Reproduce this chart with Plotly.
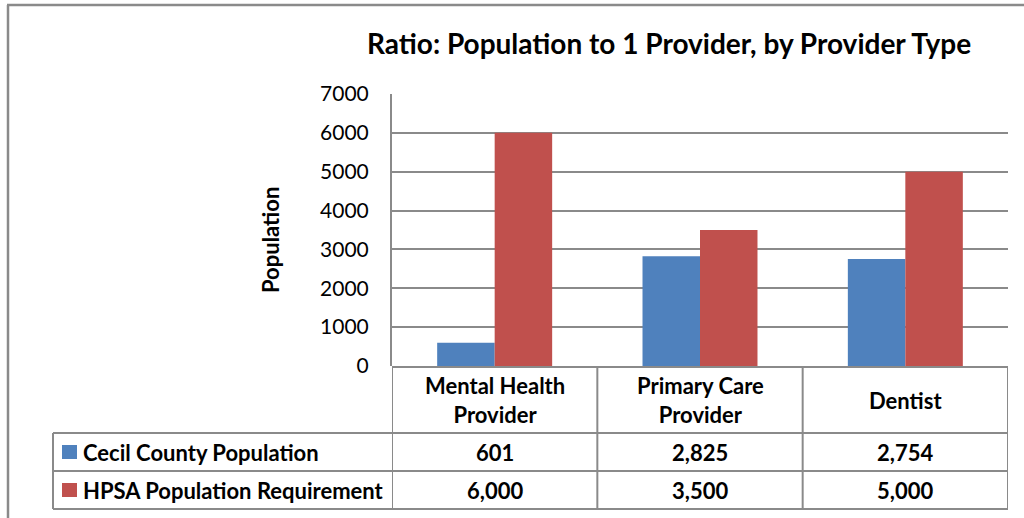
import plotly.graph_objects as go

categories = ["Mental Health Provider", "Primary Care Provider", "Dentist"]
header_labels = ["Mental Health<br>Provider", "Primary Care<br>Provider", "Dentist"]
series_names = ["Cecil County Population", "HPSA Population Requirement"]
cecil_values = [601, 2825, 2754]
hpsa_values = [6000, 3500, 5000]
series_values = [cecil_values, hpsa_values]
series_colors = ["#4F81BD", "#C0504D"]
title_text = "Ratio: Population to 1 Provider, by Provider Type"
y_title = "Population"
y_ticks = [0, 1000, 2000, 3000, 4000, 5000, 6000, 7000]

W, H = 1024, 518
L, R, T, B = 392, 16, 94, 152
PW, PH = W - L - R, H - T - B
FONT = "Lato"
LINE = "#8a8a8a"


def xp(px):
    return (px - L) / PW


def yp(py):
    return (H - B - py) / PH


fig = go.Figure()
for name, vals, col in zip(series_names, series_values, series_colors):
    fig.add_trace(go.Bar(x=categories, y=vals, name=name, marker_color=col,
                         marker_line_width=0, showlegend=False))

shapes = []
annotations = []

# outer chart border (top and left)
shapes.append(dict(type="line", xref="paper", yref="paper", x0=xp(7), x1=xp(1024),
                   y0=yp(5), y1=yp(5), line=dict(color=LINE, width=2.5)))
shapes.append(dict(type="line", xref="paper", yref="paper", x0=xp(8), x1=xp(8),
                   y0=yp(5), y1=yp(518), line=dict(color=LINE, width=2.5)))

# data table
row_top = 367
row1 = 433
row2 = 471
row_bot = 509
leg_left = 53
col_edges = [-0.5, 0.5, 1.5, 2.5]
for ce in col_edges:
    shapes.append(dict(type="line", xref="x", yref="paper", x0=ce, x1=ce,
                       y0=yp(row_top), y1=yp(row_bot), line=dict(color=LINE, width=2)))
shapes.append(dict(type="line", xref="paper", yref="paper", x0=0, x1=1,
                   y0=yp(row_top), y1=yp(row_top), line=dict(color=LINE, width=2)))
for ry in [row1, row2, row_bot]:
    shapes.append(dict(type="line", xref="paper", yref="paper", x0=xp(leg_left), x1=1,
                       y0=yp(ry), y1=yp(ry), line=dict(color=LINE, width=2)))
shapes.append(dict(type="line", xref="paper", yref="paper", x0=xp(leg_left), x1=xp(leg_left),
                   y0=yp(row1), y1=yp(row_bot), line=dict(color=LINE, width=2)))

# header labels
for i, lab in enumerate(header_labels):
    annotations.append(dict(x=i, y=yp((row_top + row1) / 2), xref="x", yref="paper",
                            text="<b>" + lab + "</b>", showarrow=False,
                            font=dict(family=FONT, size=22, color="black"),
                            xanchor="center", yanchor="middle"))

# rows
for r, (name, vals, col) in enumerate(zip(series_names, series_values, series_colors)):
    top = [row1, row2][r]
    bot = [row2, row_bot][r]
    cy = (top + bot) / 2
    shapes.append(dict(type="rect", xref="paper", yref="paper", x0=xp(62), x1=xp(77),
                       y0=yp(cy - 7), y1=yp(cy + 7), fillcolor=col, line=dict(width=0)))
    annotations.append(dict(x=xp(81), y=yp(cy), xref="paper", yref="paper",
                            text="<b>" + name + "</b>", showarrow=False,
                            font=dict(family=FONT, size=22, color="black"),
                            xanchor="left", yanchor="middle"))
    for i, v in enumerate(vals):
        annotations.append(dict(x=i, y=yp(cy), xref="x", yref="paper",
                                text="<b>" + f"{v:,}" + "</b>", showarrow=False,
                                font=dict(family=FONT, size=22, color="black"),
                                xanchor="center", yanchor="middle"))

# title
annotations.append(dict(x=xp(669), y=yp(43), xref="paper", yref="paper",
                        text="<b>" + title_text + "</b>", showarrow=False,
                        font=dict(family=FONT, size=28, color="black"),
                        xanchor="center", yanchor="middle"))
# y axis title
annotations.append(dict(x=xp(270), y=yp(240), xref="paper", yref="paper",
                        text="<b>" + y_title + "</b>", showarrow=False, textangle=-90,
                        font=dict(family=FONT, size=22, color="black"),
                        xanchor="center", yanchor="middle"))

fig.update_layout(
    width=W, height=H, autosize=False,
    margin=dict(l=L, r=R, t=T, b=B, pad=0),
    paper_bgcolor="white", plot_bgcolor="white",
    barmode="group", bargap=0.44, bargroupgap=0,
    shapes=shapes, annotations=annotations,
    font=dict(family=FONT, color="black"),
)
fig.update_xaxes(range=[-0.5, 2.5], showticklabels=False, showgrid=False,
                 zeroline=False, showline=False, ticks="")
fig.update_yaxes(range=[0, 7000], tickvals=y_ticks, showgrid=True, gridcolor=LINE,
                 gridwidth=2, zeroline=False, showline=True, linecolor=LINE, linewidth=2,
                 ticks="", ticklabelstandoff=17,
                 tickfont=dict(family=FONT, size=21, color="black"))

fig.write_html("out.html", config={"displayModeBar": False},
               post_script="document.body.style.margin='0';")
